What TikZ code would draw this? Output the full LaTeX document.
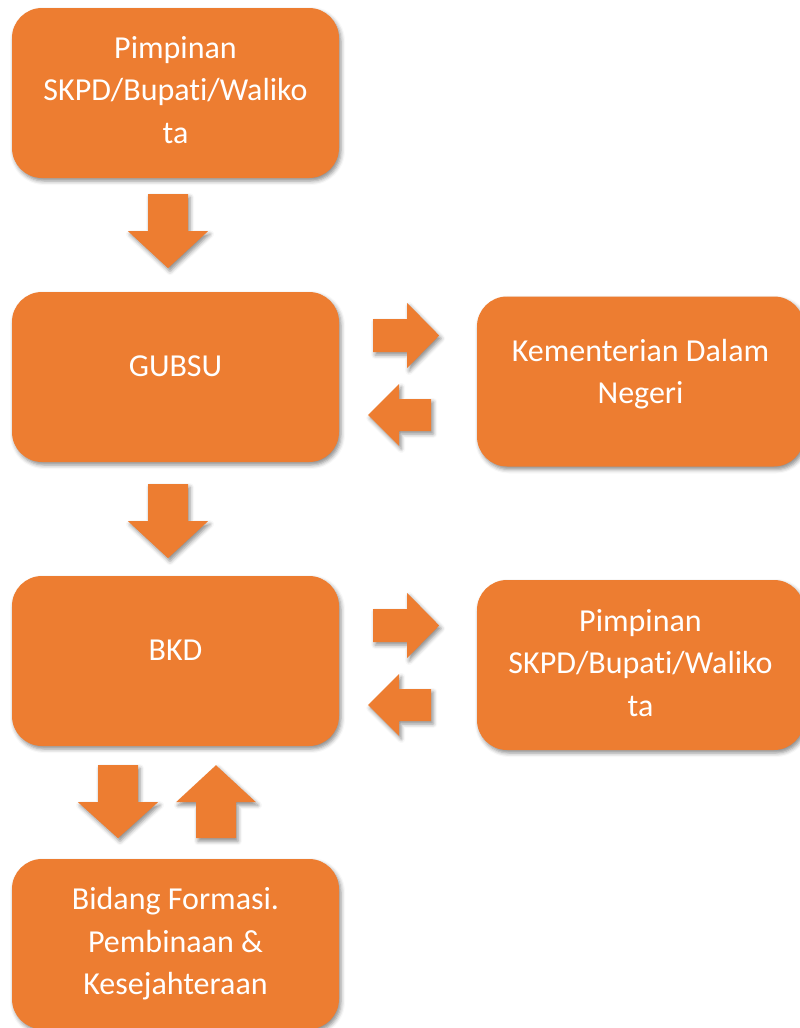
\documentclass[tikz,border=0pt]{standalone}
\usepackage{fontspec}
\setmainfont[Ligatures=NoCommon]{Carlito}
\usetikzlibrary{shadows.blur}

\definecolor{boxorange}{HTML}{ED7D31}

\tikzset{
    shade/.style={blur shadow={shadow xshift=2pt, shadow yshift=-3pt, shadow blur radius=4pt, shadow opacity=45}},
    box/.style={fill=boxorange, rounded corners=30pt, minimum width=327pt, minimum height=170pt, inner sep=0pt, shade},
    boxtext/.style={text=white, align=center, inner sep=0pt, font=\fontsize{32}{42.5}\selectfont},
    blockarrow/.style={fill=boxorange, shade}
}

\begin{document}
\begin{tikzpicture}[x=1pt, y=1pt]
    \useasboundingbox (0,0) rectangle (800,-1028);

    \node[box] (pim1) at (175.5,-93) {};
    \node[box] (gubsu) at (175.5,-377) {};
    \node[box] (bkd) at (175.5,-661) {};
    \node[box] (bidang) at (175.5,-944) {};
    \node[box] (kemendagri) at (640.5,-381.5) {};
    \node[box] (pim2) at (640.5,-665) {};

    \node[boxtext] (pim1-text) at ([yshift=3pt]pim1.center) {Pimpinan\\SKPD/Bupati/Waliko\\ta};
    \node[boxtext] (gubsu-text) at ([yshift=10.5pt]gubsu.center) {GUBSU};
    \node[boxtext] (bkd-text) at ([yshift=10.5pt]bkd.center) {BKD};
    \node[boxtext] (bidang-text) at (bidang.center) {Bidang Formasi.\\Pembinaan \&\\Kesejahteraan};
    \node[boxtext] (kemendagri-text) at ([yshift=7.5pt]kemendagri.center) {Kementerian Dalam\\Negeri};
    \node[boxtext] (pim2-text) at ([yshift=2pt]pim2.center) {Pimpinan\\SKPD/Bupati/Waliko\\ta};

    % down arrows
    \fill[blockarrow] ([shift={(-27.5,-16)}]pim1.south) -- ++(40,0) -- ++(0,-37) -- ++(20,0)
        -- ++(-40,-37) -- ++(-40,37) -- ++(20,0) -- cycle;
    \fill[blockarrow] ([shift={(-27.5,-22)}]gubsu.south) -- ++(40,0) -- ++(0,-37) -- ++(20,0)
        -- ++(-40,-37) -- ++(-40,37) -- ++(20,0) -- cycle;
    \fill[blockarrow] ([shift={(-77.5,-19)}]bkd.south) -- ++(40,0) -- ++(0,-37) -- ++(20,0)
        -- ++(-40,-36) -- ++(-40,36) -- ++(20,0) -- cycle;

    % up arrow
    \fill[blockarrow] ([shift={(20.5,-92)}]bkd.south) -- ++(40,0) -- ++(0,36) -- ++(20,0)
        -- ++(-40,37) -- ++(-40,-37) -- ++(20,0) -- cycle;

    % right and left arrows
    \fill[blockarrow] ([shift={(34,58)}]gubsu.east) -- ++(34,0) -- ++(0,16) -- ++(32,-32.5)
        -- ++(-32,-32.5) -- ++(0,16) -- ++(-34,0) -- cycle;
    \fill[blockarrow] ([shift={(92,-22)}]gubsu.east) -- ++(-32,0) -- ++(0,15) -- ++(-31,-31)
        -- ++(31,-31) -- ++(0,15) -- ++(32,0) -- cycle;
    \fill[blockarrow] ([shift={(34,52)}]bkd.east) -- ++(34,0) -- ++(0,16) -- ++(32,-32.5)
        -- ++(-32,-32.5) -- ++(0,16) -- ++(-34,0) -- cycle;
    \fill[blockarrow] ([shift={(92,-28)}]bkd.east) -- ++(-32,0) -- ++(0,15) -- ++(-31,-31)
        -- ++(31,-31) -- ++(0,15) -- ++(32,0) -- cycle;
\end{tikzpicture}
\end{document}
